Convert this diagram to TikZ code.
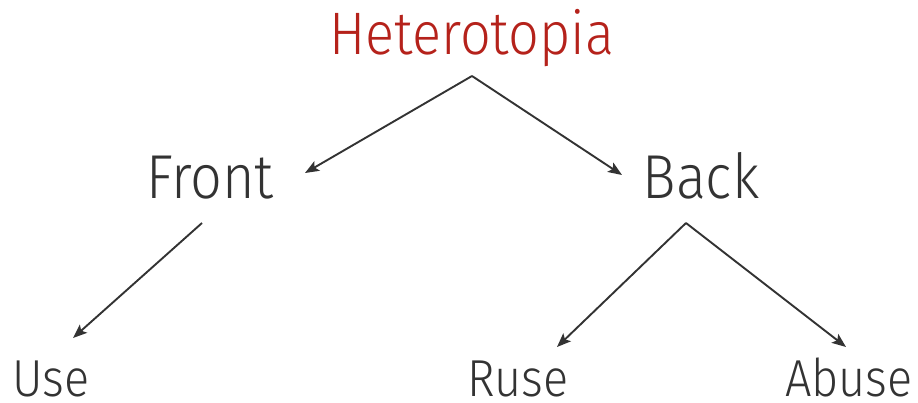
\documentclass[tikz,border=0pt]{standalone}
\usepackage{fontspec}
\IfFontExistsTF{Fira Sans Book}
  {\setmainfont{Fira Sans Book}[FakeStretch=0.885]}
  {\setmainfont{Fira Sans Light}[FakeStretch=0.9]}
\usetikzlibrary{arrows.meta}
\definecolor{titlered}{HTML}{B5221B}
\definecolor{ink}{HTML}{333333}
\tikzset{
  upper/.style={anchor=base, inner sep=0pt, text=ink, font=\fontsize{62}{62}\selectfont},
  lower/.style={anchor=base, inner sep=0pt, text=ink, font=\fontsize{52}{52}\selectfont},
  link/.style={draw=ink, line width=1.9pt, -{Stealth[length=14pt,width=11pt,inset=3pt]}}
}
\begin{document}
\begin{tikzpicture}[x=1pt,y=-1pt]
  \useasboundingbox (0,0) rectangle (918,403);
  % labels
  \node[upper, text=titlered, font=\fontsize{60}{60}\selectfont] (het) at (472,55) {Heterotopia};
  \node[upper] (front) at (210,199) {Front};
  \node[upper] (back) at (701,199) {Back};
  \node[lower] (use) at (51,396) {Use};
  \node[lower] (ruse) at (518,396) {Ruse};
  \node[lower] (abuse) at (849,396) {Abuse};
  % connector ends
  \coordinate (hetfoot) at (472,76);
  \coordinate (frontin) at (305,173);
  \coordinate (backin) at (622,175);
  \coordinate (frontfoot) at (202,223);
  \coordinate (usein) at (73,338);
  \coordinate (backfoot) at (686,223);
  \coordinate (rusein) at (557,347);
  \coordinate (abusein) at (846,347);
  % connectors
  \draw[link] (hetfoot) -- (frontin);
  \draw[link] (hetfoot) -- (backin);
  \draw[link] (frontfoot) -- (usein);
  \draw[link] (backfoot) -- (rusein);
  \draw[link] (backfoot) -- (abusein);
\end{tikzpicture}
\end{document}
